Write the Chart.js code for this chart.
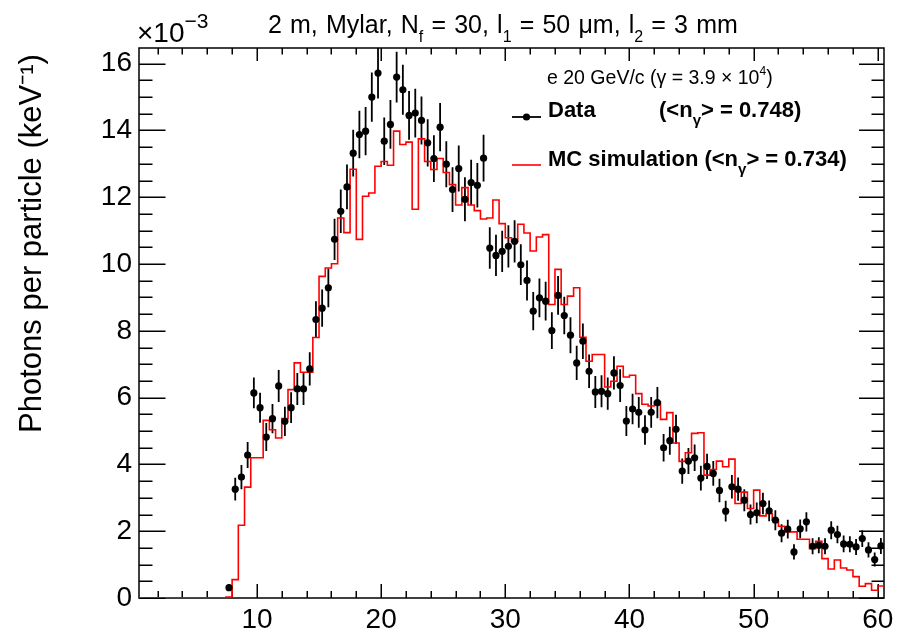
<!DOCTYPE html>
<html><head><meta charset="utf-8">
<script src="https://cdn.jsdelivr.net/npm/chart.js@4/dist/chart.umd.min.js"></script>
<style>
html,body{margin:0;padding:0;background:#fff;}
#wrap{position:relative;width:898px;height:636px;font-family:"Liberation Sans",Arial,Helvetica,sans-serif;color:#000;}
#c{position:absolute;left:0;top:0;}
.t{position:absolute;white-space:nowrap;line-height:1;}
.sb{position:relative;}
</style></head><body>
<div id="wrap">
<canvas id="c" width="898" height="636"></canvas>
<div class="t" style="left:137px;top:19px;font-size:28px">×10<span class="sb" style="font-size:21px;top:-14px">−3</span></div>
<div class="t" style="left:268px;top:12px;font-size:25px;word-spacing:1.2px">2 m, Mylar, N<span class="sb" style="font-size:16px;top:9px">f</span> = 30, l<span class="sb" style="font-size:16px;top:9px">1</span> = 50 μm, l<span class="sb" style="font-size:16px;top:9px">2</span> = 3 mm</div>
<div class="t" style="left:547px;top:68px;font-size:19.5px">e 20 GeV/c (γ = 3.9 × 10<span class="sb" style="font-size:12px;top:-9px">4</span>)</div>
<div class="t" style="left:548px;top:99px;font-size:22px;font-weight:bold">Data</div>
<div class="t" style="left:659px;top:99px;font-size:22px;font-weight:bold">(&lt;n<span class="sb" style="font-size:15px;top:8px">γ</span>&gt; = 0.748)</div>
<div class="t" style="left:548px;top:148px;font-size:22px;font-weight:bold">MC simulation (&lt;n<span class="sb" style="font-size:15px;top:8px">γ</span>&gt; = 0.734)</div>
</div>
<script>
// ---- data ----
const dataX = [7.75, 8.25, 8.75, 9.25, 9.75, 10.25, 10.75, 11.25, 11.75, 12.25, 12.75, 13.25, 13.75, 14.25, 14.75, 15.25, 15.75, 16.25, 16.75, 17.25, 17.75, 18.25, 18.75, 19.25, 19.75, 20.25, 20.75, 21.25, 21.75, 22.25, 22.75, 23.25, 23.75, 24.25, 24.75, 25.25, 25.75, 26.25, 26.75, 27.25, 27.75, 28.25, 28.75, 29.25, 29.75, 30.25, 30.75, 31.25, 31.75, 32.25, 32.75, 33.25, 33.75, 34.25, 34.75, 35.25, 35.75, 36.25, 36.75, 37.25, 37.75, 38.25, 38.75, 39.25, 39.75, 40.25, 40.75, 41.25, 41.75, 42.25, 42.75, 43.25, 43.75, 44.25, 44.75, 45.25, 45.75, 46.25, 46.75, 47.25, 47.75, 48.25, 48.75, 49.25, 49.75, 50.25, 50.75, 51.25, 51.75, 52.25, 52.75, 53.25, 53.75, 54.25, 54.75, 55.25, 55.75, 56.25, 56.75, 57.25, 57.75, 58.25, 58.75, 59.25, 59.75, 60.25];
const dataY = [0.31, 3.26, 3.62, 4.28, 6.14, 5.70, 4.82, 5.37, 6.35, 5.29,
  5.70, 6.26, 6.26, 6.86, 8.34, 8.68, 9.29, 10.74, 11.58, 12.31,
  13.32, 13.88, 13.98, 15.00, 15.72, 13.68, 14.18, 15.60, 15.22, 14.45,
  14.52, 14.30, 13.63, 13.16, 14.10, 12.99, 12.23, 12.86, 11.94, 12.44,
  12.36, 13.17, 10.48, 10.26, 10.38, 10.53, 10.68, 9.98, 9.51, 8.59,
  8.99, 8.89, 8.01, 9.06, 8.46, 7.87, 7.04, 7.69, 6.79, 6.17,
  6.19, 6.12, 6.74, 6.36, 5.30, 5.66, 5.56, 5.03, 5.56, 5.85,
  4.50, 4.71, 5.05, 3.80, 4.10, 4.20, 3.59, 3.94, 3.73, 3.22,
  2.60, 3.33, 3.26, 2.93, 2.50, 2.55, 2.83, 2.61, 2.33, 1.94,
  2.06, 1.38, 2.07, 2.28, 1.55, 1.58, 1.55, 2.03, 1.90, 1.62,
  1.61, 1.53, 1.78, 1.44, 1.15, 1.56];
const dataErr = [0.10, 0.34, 0.36, 0.39, 0.46, 0.45, 0.42, 0.44, 0.48, 0.44,
  0.46, 0.48, 0.48, 0.50, 0.55, 0.56, 0.58, 0.62, 0.65, 0.67,
  0.70, 0.71, 0.72, 0.74, 0.76, 0.71, 0.73, 0.76, 0.75, 0.73,
  0.73, 0.72, 0.71, 0.70, 0.72, 0.69, 0.67, 0.69, 0.66, 0.68,
  0.67, 0.70, 0.62, 0.62, 0.62, 0.63, 0.63, 0.61, 0.60, 0.57,
  0.58, 0.58, 0.55, 0.58, 0.56, 0.54, 0.51, 0.53, 0.50, 0.48,
  0.48, 0.48, 0.50, 0.49, 0.45, 0.46, 0.46, 0.44, 0.46, 0.47,
  0.41, 0.42, 0.44, 0.38, 0.39, 0.40, 0.37, 0.38, 0.37, 0.35,
  0.31, 0.35, 0.35, 0.33, 0.30, 0.31, 0.32, 0.31, 0.30, 0.27,
  0.28, 0.23, 0.28, 0.29, 0.24, 0.24, 0.24, 0.27, 0.26, 0.25,
  0.24, 0.24, 0.25, 0.23, 0.21, 0.24];
const mcEdges = [0.5, 7.5, 8, 8.5, 9, 9.5, 10, 10.5, 11, 11.5, 12, 12.5, 13, 13.5, 14, 14.5, 15, 15.5, 16, 16.5, 17, 17.5, 18, 18.5, 19, 19.5, 20, 20.5, 21, 21.5, 22, 22.5, 23, 23.5, 24, 24.5, 25, 25.5, 26, 26.5, 27, 27.5, 28, 28.5, 29, 29.5, 30, 30.5, 31, 31.5, 32, 32.5, 33, 33.5, 34, 34.5, 35, 35.5, 36, 36.5, 37, 37.5, 38, 38.5, 39, 39.5, 40, 40.5, 41, 41.5, 42, 42.5, 43, 43.5, 44, 44.5, 45, 45.5, 46, 46.5, 47, 47.5, 48, 48.5, 49, 49.5, 50, 50.5, 51, 51.5, 52, 52.5, 53, 53.5, 54, 54.5, 55, 55.5, 56, 56.5, 57, 57.5, 58, 58.5, 59, 59.5, 60, 60.5];
const mcVals = [0,
  0.03, 0.55, 2.18, 3.32, 4.20, 4.20, 5.32, 5.04, 4.79, 5.37,
  6.24, 7.04, 6.76, 6.76, 7.80, 9.63, 9.88, 10.01, 11.38, 10.94,
  12.84, 10.74, 12.03, 12.13, 12.93, 13.07, 12.96, 13.98, 13.58, 13.65,
  11.64, 13.75, 13.07, 12.83, 13.16, 12.74, 12.38, 11.77, 12.29, 11.77,
  11.60, 11.35, 11.38, 11.92, 11.21, 10.79, 10.68, 11.19, 10.93, 10.39,
  10.81, 10.88, 8.79, 9.84, 8.79, 9.04, 9.29, 7.81, 7.09, 7.29,
  7.29, 6.32, 6.49, 6.94, 6.62, 6.67, 6.12, 5.80, 5.75, 5.87,
  5.35, 5.55, 4.64, 4.09, 4.35, 4.93, 4.95, 3.68, 3.85, 4.10,
  3.93, 4.16, 2.83, 3.17, 2.68, 3.23, 2.46, 2.53, 2.34, 2.15,
  1.98, 1.98, 1.76, 1.76, 1.48, 1.70, 1.18, 0.87, 1.14, 0.90,
  0.84, 0.64, 0.35, 0.43, 0.23, 0.36];
const xTickLabels = [10, 20, 30, 40, 50, 60];
const yTickLabels = [0, 2, 4, 6, 8, 10, 12, 14, 16];
const xRange = [0.5, 60.5];
const yRange = [0, 16.47];
const xMinorStep = 2;
const yMinorStep = 0.5;

// ---- build datasets ----
const dataPts = dataX.map((x, i) => ({x: x, y: dataY[i]}));
const mcPts = mcVals.map((v, i) => ({x: mcEdges[i], y: v}));
mcPts.push({x: mcEdges[mcEdges.length - 1], y: mcVals[mcVals.length - 1]});

const FONT = "'Liberation Sans', Arial, Helvetica, sans-serif";

const rootAxes = {
  id: 'rootAxes',
  beforeDatasetsDraw(chart) {
    const {ctx, chartArea: a, scales: {x, y}} = chart;
    ctx.save();
    ctx.strokeStyle = '#000';
    ctx.lineWidth = 1.5;
    ctx.lineCap = 'butt';
    ctx.strokeRect(a.left, a.top, a.right - a.left, a.bottom - a.top);
    ctx.beginPath();
    for (let v = xMinorStep; v <= xRange[1] + 1e-9; v += xMinorStep) {
      const px = Math.round(x.getPixelForValue(v)) + 0.25;
      const major = xTickLabels.includes(v);
      ctx.moveTo(px, a.bottom); ctx.lineTo(px, a.bottom - (major ? 14 : 7));
      ctx.moveTo(px, a.top); ctx.lineTo(px, a.top + (major ? 13 : 6.5));
    }
    for (let v = 0; v <= yRange[1] + 1e-9; v += yMinorStep) {
      const py = Math.round(y.getPixelForValue(v)) + 0.25;
      const major = yTickLabels.includes(v);
      ctx.moveTo(a.left, py); ctx.lineTo(a.left + (major ? 26.5 : 13.5), py);
      ctx.moveTo(a.right, py); ctx.lineTo(a.right - (major ? 25 : 12.5), py);
    }
    ctx.stroke();
    // error bars of the data
    ctx.beginPath();
    ctx.rect(a.left, a.top, a.right - a.left, a.bottom - a.top);
    ctx.clip();
    ctx.lineWidth = 1.8;
    ctx.beginPath();
    dataX.forEach((xv, i) => {
      const px = x.getPixelForValue(xv);
      ctx.moveTo(px, y.getPixelForValue(dataY[i] - dataErr[i]));
      ctx.lineTo(px, y.getPixelForValue(dataY[i] + dataErr[i]));
    });
    ctx.stroke();
    ctx.restore();
  },
  afterDraw(chart) {
    const ctx = chart.ctx;
    ctx.save();
    ctx.lineWidth = 1.8;
    ctx.strokeStyle = '#000';
    ctx.beginPath(); ctx.moveTo(512, 117); ctx.lineTo(541, 117); ctx.stroke();
    ctx.fillStyle = '#000';
    ctx.beginPath(); ctx.arc(526.5, 117, 3.6, 0, Math.PI * 2); ctx.fill();
    ctx.strokeStyle = '#ff0000';
    ctx.lineWidth = 1.6;
    ctx.beginPath(); ctx.moveTo(512, 165); ctx.lineTo(541, 165); ctx.stroke();
    ctx.restore();
  }
};

new Chart(document.getElementById('c'), {
  type: 'line',
  data: {
    datasets: [
      {
        label: 'Data',
        data: dataPts,
        showLine: false,
        pointRadius: 3.6,
        pointHoverRadius: 3.6,
        pointBackgroundColor: '#000',
        pointBorderWidth: 0,
        borderColor: '#000',
        order: 0
      },
      {
        label: 'MC simulation',
        data: mcPts,
        stepped: 'before',
        borderColor: '#ff0000',
        borderWidth: 1.6,
        pointRadius: 0,
        fill: false,
        order: 1
      }
    ]
  },
  options: {
    responsive: false,
    animation: false,
    devicePixelRatio: 1,
    layout: {padding: {top: 48, right: 14, left: 0, bottom: 0}},
    plugins: {legend: {display: false}, tooltip: {enabled: false}, title: {display: false}},
    scales: {
      x: {
        type: 'linear',
        min: xRange[0], max: xRange[1],
        grid: {display: false, drawTicks: false},
        border: {display: false},
        ticks: {font: {family: FONT, size: 28}, color: '#000', padding: 5, autoSkip: false, maxRotation: 0},
        afterBuildTicks(s) { s.ticks = xTickLabels.map(v => ({value: v})); },
        afterFit(s) { s.height = 38; s.paddingLeft = 0; s.paddingRight = 0; }
      },
      y: {
        type: 'linear',
        min: yRange[0], max: yRange[1],
        grid: {display: false, drawTicks: false},
        border: {display: false},
        ticks: {font: {family: FONT, size: 28}, color: '#000', padding: 7},
        title: {display: true, text: 'Photons per particle (keV⁻¹)\u2009', align: 'end', color: '#000',
                font: {family: FONT, size: 31}, padding: {top: 14, bottom: 0}},
        afterBuildTicks(s) { s.ticks = yTickLabels.map(v => ({value: v})); },
        afterFit(s) { s.width = 139; s.paddingTop = 0; s.paddingBottom = 0; }
      }
    }
  },
  plugins: [rootAxes]
});
</script>
</body></html>
